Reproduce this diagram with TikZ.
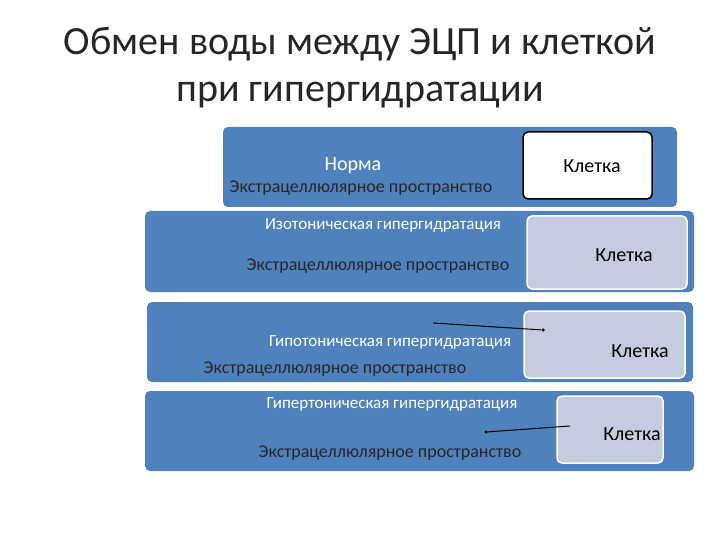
\documentclass[tikz,border=0pt]{standalone}
\usepackage{fontspec}
\setmainfont{Carlito}
\begin{document}
\begin{tikzpicture}[x=1pt,y=-1pt,
  band/.style={fill=bandblue,rounded corners=5pt,draw=none},
  cellw/.style={fill=white,draw=black,line width=1.5pt,rounded corners=5pt},
  cellg/.style={fill=cellgray,draw=white,line width=1.5pt,rounded corners=5pt},
  wt/.style={text=white,font=\fontsize{17}{19}\selectfont},
  dk/.style={text=black!85,font=\fontsize{18}{20}\selectfont},
  ct/.style={text=black,font=\fontsize{20}{22}\selectfont},
  ln/.style={line width=1pt,black},
  dot/.style={circle,fill=black,inner sep=0pt,minimum size=3.5pt}]
\definecolor{bandblue}{HTML}{4F81BD}
\definecolor{cellgray}{HTML}{C5CCDF}
\useasboundingbox (0,0) rectangle (720,540);
\fill[white] (0,0) rectangle (720,540);
\node[font=\fontsize{40}{47}\selectfont,align=center,text=black!85] (title) at (360,68) {Обмен воды между ЭЦП и клеткой\\при гипергидратации};
% band 1
\path[band] (223,127) rectangle (677,207);
\node[cellw,minimum width=129pt,minimum height=67pt] (c1) at (587.5,165.5) {};
\node[ct] (k1) at (592,166) {Клетка};
\node[wt,font=\fontsize{20}{22}\selectfont] (n1) at (353,166) {Норма};
\node[dk] (e1) at (361,188) {Экстрацеллюлярное пространство};
% band 2
\path[band] (145,211) rectangle (694,292);
\node[cellg,minimum width=160pt,minimum height=73pt] (c2) at (607,252.5) {};
\node[ct] (k2) at (624,255) {Клетка};
\node[wt] (i2) at (383,225) {Изотоническая гипергидратация};
\node[dk] (e2) at (378,266) {Экстрацеллюлярное пространство};
% band 3
\path[band] (147,302) rectangle (693,382);
\node[cellg,minimum width=161pt,minimum height=67pt] (c3) at (604.5,344.5) {};
\node[ct] (k3) at (640,351) {Клетка};
\node[wt] (i3) at (390,342) {Гипотоническая гипергидратация};
\node[dk] (e3) at (335,369) {Экстрацеллюлярное пространство};
\coordinate (a3) at (433,323);
\node[dot] (d3) at (543,330) {};
\draw[ln] (a3) -- (d3);
% band 4
\path[band] (145,391) rectangle (694,471);
\node[cellg,minimum width=106pt,minimum height=67pt] (c4) at (610,429.5) {};
\node[ct] (k4) at (632,434) {Клетка};
\node[wt] (i4) at (392,404) {Гипертоническая гипергидратация};
\node[dk] (e4) at (390,453) {Экстрацеллюлярное пространство};
\node[dot] (d4) at (486,432) {};
\coordinate (a4) at (570,426);
\draw[ln] (d4) -- (a4);
\end{tikzpicture}
\end{document}
